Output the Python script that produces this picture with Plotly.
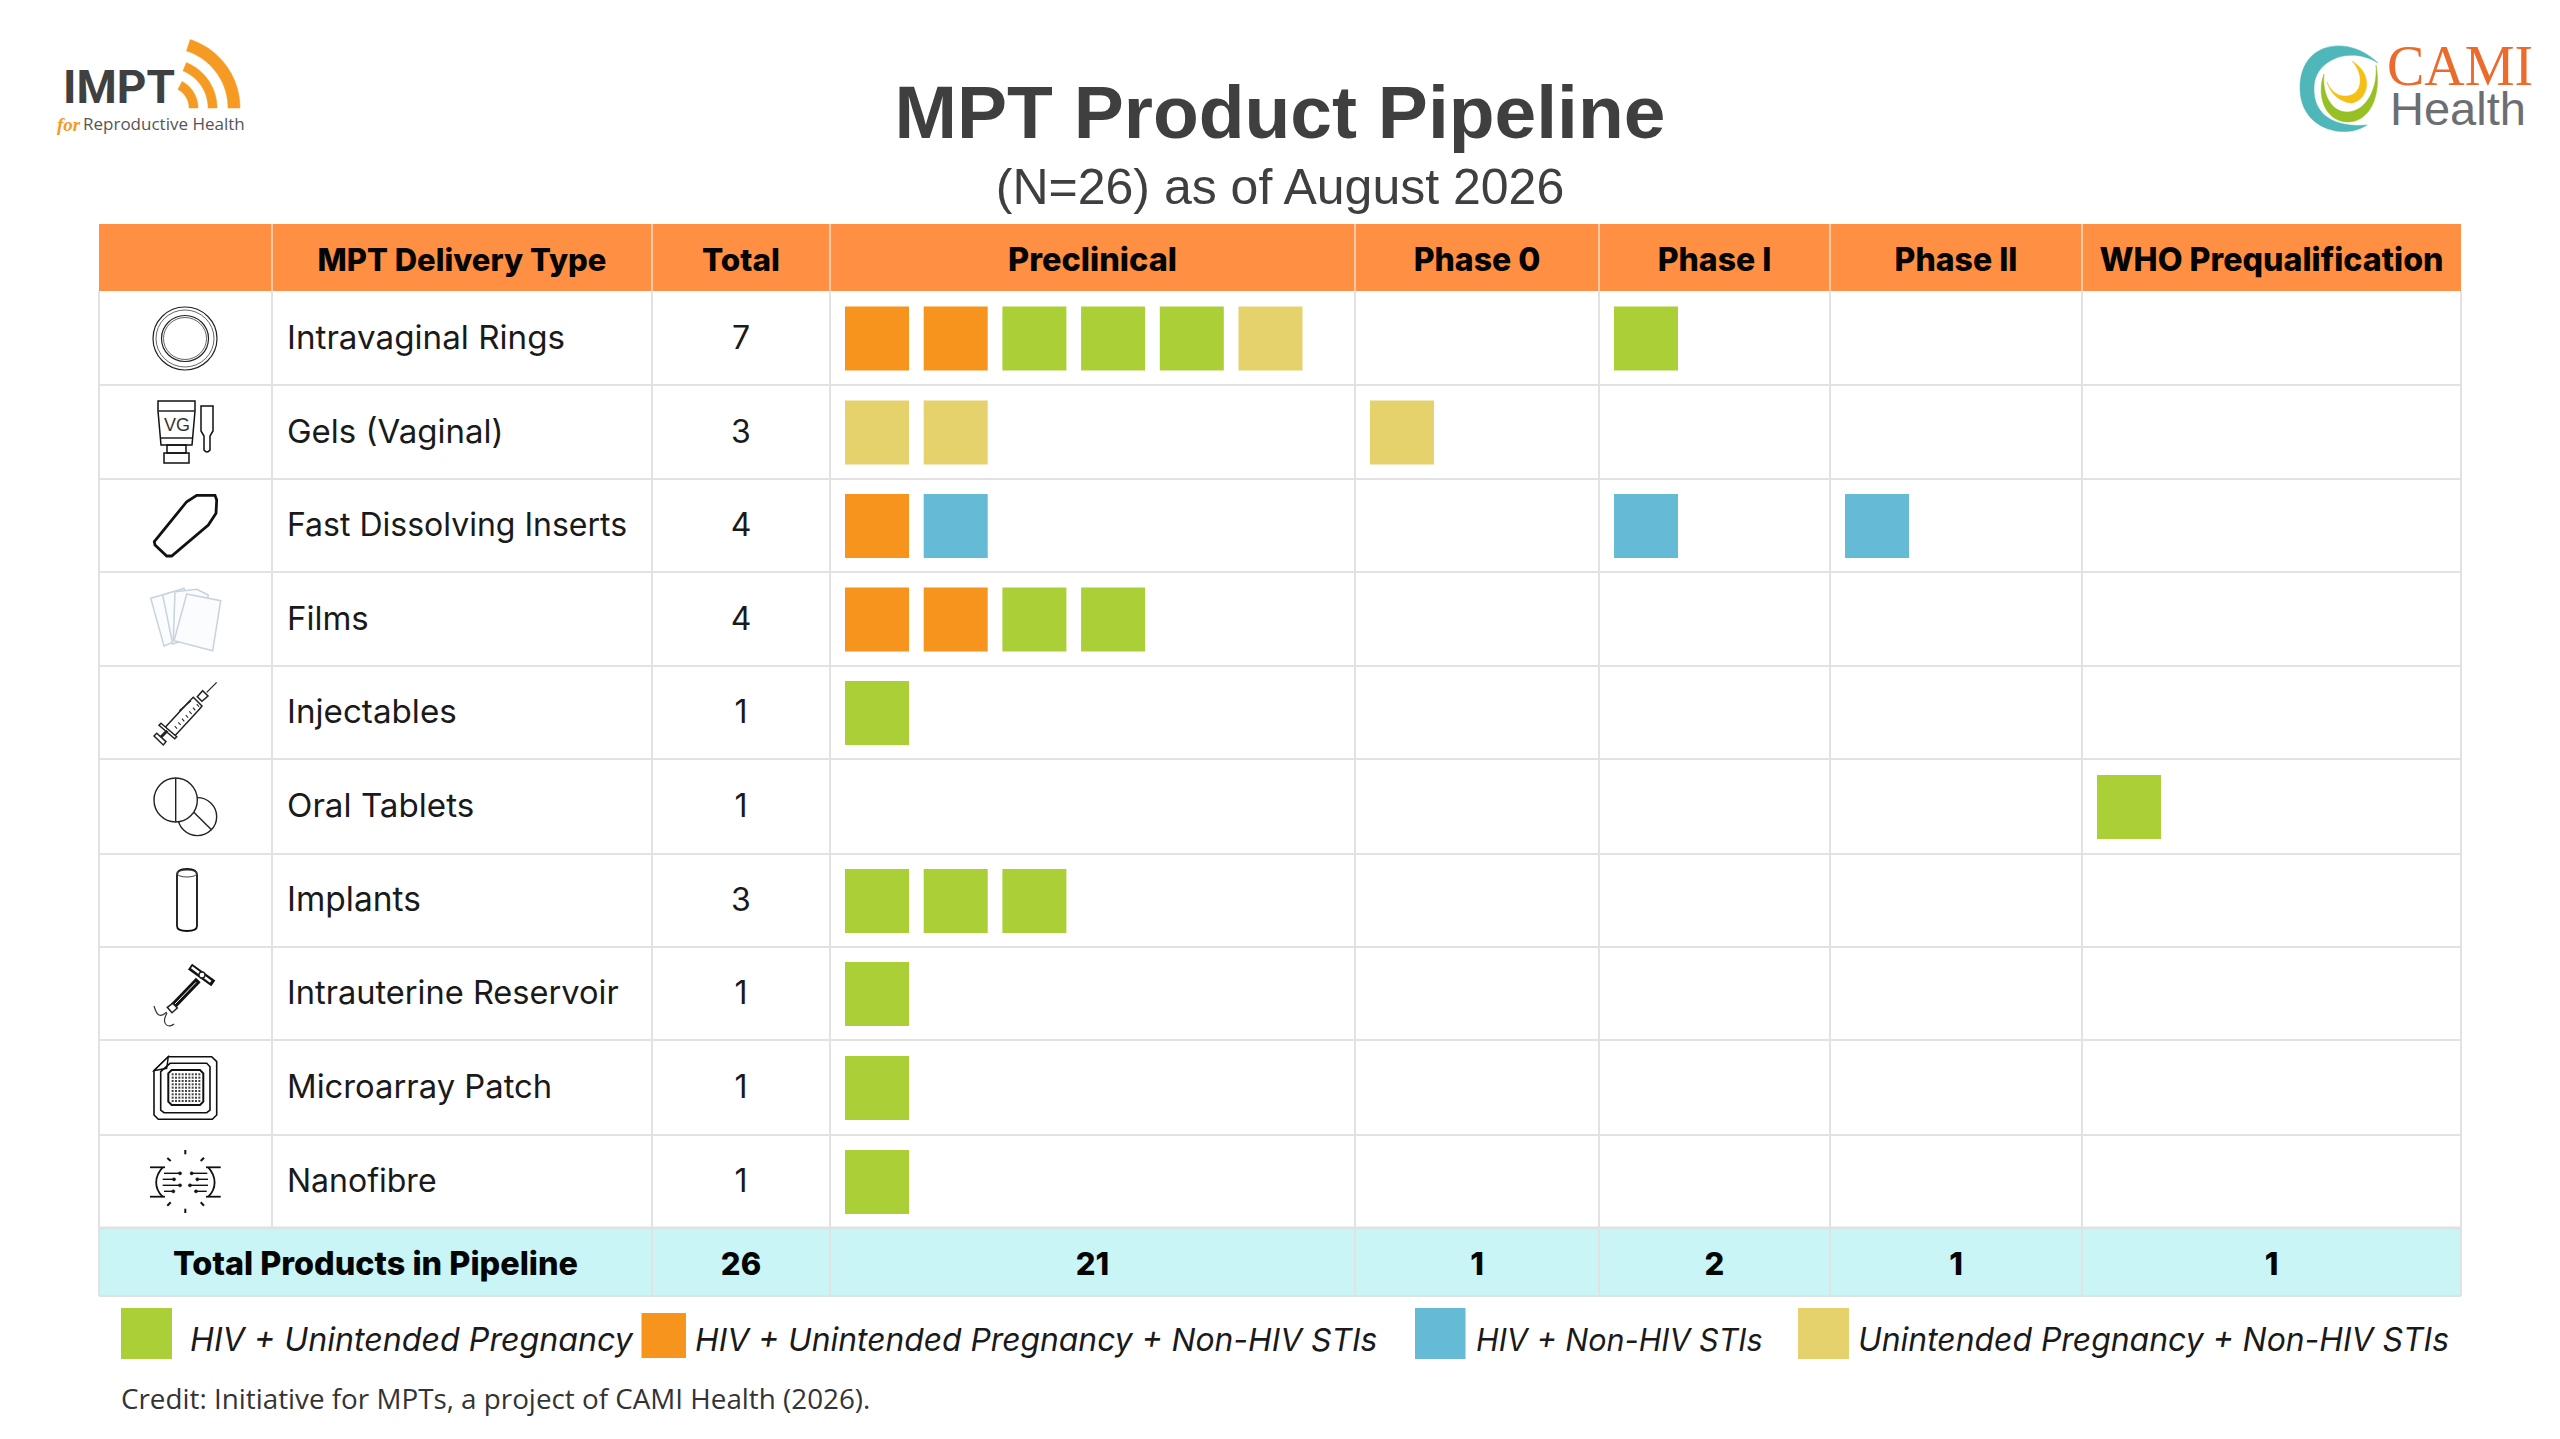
import numpy as np
import plotly.graph_objects as go

# ---------- data ----------
delivery_types = ["Intravaginal Rings", "Gels (Vaginal)", "Fast Dissolving Inserts", "Films", "Injectables",
                  "Oral Tablets", "Implants", "Intrauterine Reservoir", "Microarray Patch", "Nanofibre"]
row_totals = [7, 3, 4, 4, 1, 1, 3, 1, 1, 1]
stages = ["Preclinical", "Phase 0", "Phase I", "Phase II", "WHO Prequalification"]
stage_totals = [21, 1, 2, 1, 1]
grand_total = 26

G, O, B, Y = "HIV + Unintended Pregnancy", "HIV + Unintended Pregnancy + Non-HIV STIs", "HIV + Non-HIV STIs", "Unintended Pregnancy + Non-HIV STIs"
indications = [G, O, B, Y]
preclinical = [[O, O, G, G, G, Y], [Y, Y], [O, B], [O, O, G, G], [G], [], [G, G, G], [G], [G], [G]]
phase_0 = [[], [Y], [], [], [], [], [], [], [], []]
phase_1 = [[G], [], [B], [], [], [], [], [], [], []]
phase_2 = [[], [], [B], [], [], [], [], [], [], []]
who_preq = [[], [], [], [], [], [G], [], [], [], []]
pipeline = [preclinical, phase_0, phase_1, phase_2, who_preq]

# ---------- layout constants (page units) ----------
W, H = 2560, 1439
col_edges = [99, 272, 652, 830, 1355, 1599, 1830, 2082, 2461]
row_edges = [224, 291, 385, 479, 572, 666, 759, 854, 947, 1040, 1135, 1228, 1296]
colors = {G: "#ABCF37", O: "#F7941E", B: "#65BBD6", Y: "#E5D26D"}
GRID = "#E2E2E2"
FONT = "Inter"
row_c = [(row_edges[i] + row_edges[i + 1]) / 2 for i in range(len(row_edges) - 1)]
col_c = [(col_edges[i] + col_edges[i + 1]) / 2 for i in range(len(col_edges) - 1)]
body_c = row_c[1:11]
total_c = row_c[11]
stage_left = col_edges[3:8]
stage_c = col_c[3:]

fig = go.Figure()
shapes = []


def rect(x0, y0, x1, y1, fill, line=None, lw=0):
    shapes.append(dict(type="rect", x0=x0, y0=y0, x1=x1, y1=y1, fillcolor=fill, layer="below",
                       line=dict(color=line or fill, width=lw)))


def seg(x0, y0, x1, y1, color=GRID, lw=2):
    shapes.append(dict(type="line", x0=x0, y0=y0, x1=x1, y1=y1, layer="below", line=dict(color=color, width=lw)))


def path(d, fill="rgba(0,0,0,0)", line="#111", lw=1.5):
    shapes.append(dict(type="path", path=d, fillcolor=fill, layer="below", line=dict(color=line, width=lw)))


def ell(cx, cy, rx, ry, fill="rgba(0,0,0,0)", line="#222", lw=1.5):
    shapes.append(dict(type="circle", x0=cx - rx, x1=cx + rx, y0=cy - ry, y1=cy + ry, fillcolor=fill, layer="below",
                       line=dict(color=line, width=lw)))


def poly(pts, ox, oy, s=3.0, close=True, **kw):
    d = "M" + " L".join(f"{ox + x / s:.1f} {oy + y / s:.1f}" for x, y in pts) + (" Z" if close else "")
    path(d, **kw)


# ---------- table ----------
rect(col_edges[0], row_edges[0], col_edges[-1], row_edges[1], "#FF8F42")
rect(col_edges[0], row_edges[11], col_edges[-1], row_edges[12], "#C9F5F6")
for y in row_edges[2:11]:
    seg(col_edges[0], y, col_edges[-1], y)
seg(col_edges[0], row_edges[11], col_edges[-1], row_edges[11], "#DDE3E3", 3)
seg(col_edges[0], row_edges[12], col_edges[-1], row_edges[12], "#DDE3E3", 2)
for i, x in enumerate(col_edges):
    if 0 < i < len(col_edges) - 1:
        seg(x, row_edges[0], x, row_edges[1], "#FBC9A4", 2)
    if i != 1:
        seg(x, row_edges[1], x, row_edges[12], GRID, 2)
    else:
        seg(x, row_edges[1], x, row_edges[11], GRID, 2)

# ---------- pipeline squares ----------
STEP = 78.7
for ind in indications:
    xs, ys = [], []
    for s, stage in enumerate(pipeline):
        for r, cell in enumerate(stage):
            for k, v in enumerate(cell):
                if v == ind:
                    xs.append(stage_left[s] + 15 + 32 + k * STEP)
                    ys.append(body_c[r] + 0.5)
    fig.add_trace(go.Scatter(x=xs, y=ys, mode="markers", name=ind, showlegend=False,
                             marker=dict(symbol="square", size=64, color=colors[ind], line=dict(width=0))))


def text_trace(xs, ys, texts, size, color="#111", weight=400, pos="middle center", family=FONT, style="normal"):
    fig.add_trace(go.Scatter(x=xs, y=ys, text=texts, mode="text", textposition=pos, showlegend=False,
                             textfont=dict(family=family, size=size, color=color, weight=weight, style=style)))


# header + body + totals text
hdr_x = [col_c[1], col_c[2]] + stage_c
text_trace(hdr_x, [row_c[0] + 5.5] * len(hdr_x), ["MPT Delivery Type", "Total"] + stages,
           [31, 31.5, 32.5, 32, 32, 32, 32.2], "#050505", 800)
text_trace([287] * 10, [y + 2.5 for y in body_c], delivery_types,
           [33.2, 33, 32, 33, 33.2, 33.2, 33.5, 32.6, 32.8, 32], "#1a1a1a", 400, "middle right")
text_trace([col_c[2]] * 10, [y + 2.5 for y in body_c], [str(v) for v in row_totals], 32, "#1a1a1a")
total_x = [(col_edges[0] + col_edges[2]) / 2, col_c[2]] + stage_c
text_trace(total_x, [total_c + 5] * 7, ["Total Products in Pipeline", str(grand_total)] + [str(v) for v in stage_totals],
           [32.4, 31, 31, 31, 31, 31, 31], "#050505", 800)

# title
text_trace([1280], [119], ["MPT Product Pipeline"], 75, "#3F3F3F", 700, family="Liberation Sans")
text_trace([1280], [191], ["(N=26) as of August 2026"], 50, "#3F3F3F", 400, family="Liberation Sans")

# legend
rect(121, 1308, 172, 1359, colors[G])
rect(641.5, 1313, 686, 1358, colors[O])
rect(1415, 1308, 1465.5, 1359, colors[B])
rect(1798, 1308, 1849, 1359, colors[Y])
text_trace([190, 695, 1476, 1858], [1343] * 4, indications, [32.2, 31.8, 30.5, 31.9], "#1a1a1a", 400, "middle right",
           style="italic")
text_trace([121], [1402], ["Credit: Initiative for MPTs, a project of CAMI Health (2026)."], 27.8, "#333", 400,
           "middle right", family="Open Sans")

# ---------- icons ----------
# ring
ell(185, 338.5, 32, 31.5, lw=1.2)
ell(185, 338.5, 29, 28.5, lw=0.7)
ell(185, 338.5, 23.5, 23, lw=1.2)
ell(185, 338.5, 21.5, 21, lw=0.7)
# gel tube + applicator
path("M158 401 L195 401 L195 411 L192 445 L161 445 L158 411 Z", fill="white", lw=1.5)
seg(158, 411, 195, 411, "#222", 1.5)
seg(161, 438, 192, 438, "#222", 1.5)
path("M167 445 L186 445 L186 453 L167 453 Z", lw=1.5)
path("M164 453 L189 453 L189 463 L164 463 Z", lw=1.5)
path("M201 406 L213 406 L213 431 L210 436 L210 450 Q207 454 204 450 L204 436 L201 431 Z", lw=1.5)
text_trace([177], [426], ["VG"], 18, "#333", 400, family="Liberation Sans")
# fast dissolving insert
poly([(193, 185), (290, 65), (320, 46), (375, 46), (380, 60), (378, 100), (355, 135), (245, 228), (230, 228), (195, 195)],
     90, 480, lw=2.8, line="#111")
# films
film = "#C9D3DE"
for pts in ([(182, 355), (250, 335), (290, 470), (222, 498)],
            [(218, 345), (282, 325), (315, 470), (248, 492)],
            [(255, 335), (320, 328), (355, 345), (330, 480), (250, 480)],
            [(290, 342), (392, 362), (368, 512), (252, 482)]):
    poly(pts, 90, 480, fill="#FBFCFD", line=film, lw=1.5)
# syringe
ZX, ZY = 90, 480
poly([(380, 607), (350, 637)], ZX, ZY, close=False, lw=1.2, line="#222")
poly([(338, 632), (354, 648), (336, 664), (322, 650)], ZX, ZY, lw=1.5, line="#222", fill="white")
poly([(310, 652), (336, 678), (326, 690), (254, 768), (226, 742), (298, 664)], ZX, ZY, lw=1.5, line="#222", fill="white")
poly([(213, 730), (260, 770), (254, 776), (207, 736)], ZX, ZY, lw=1.5, line="#222", fill="white")
poly([(232, 752), (212, 772)], ZX, ZY, close=False, lw=3, line="#222")
poly([(192, 768), (200, 760), (228, 785), (220, 795)], ZX, ZY, lw=1.5, line="#222", fill="white")
poly([(268, 692), (303, 662)], ZX, ZY, close=False, lw=1.2, line="#222")
for i in range(7):
    cx, cy = 254 + i * 11, 738 - i * 11
    poly([(cx, cy), (cx + 7, cy + 8)], ZX, ZY, close=False, lw=1.1, line="#222")
# oral tablets
ell(90 + 322 / 3, 480 + 1010 / 3, 58 / 3, 57 / 3, fill="white", lw=1.4)
poly([(310, 995), (365, 1050)], ZX, ZY, close=False, lw=1.4, line="#222")
ell(90 + 257 / 3, 480 + 960 / 3, 65 / 3, 66 / 3, fill="white", lw=1.4)
poly([(257, 895), (257, 1025)], ZX, ZY, close=False, lw=1.4, line="#222")
# implant
path("M177 875 Q177 869 187 869 Q197 869 197 875 L197 926 Q197 931 187 931 Q177 931 177 926 Z", lw=1.8, line="#111")
ell(187, 873.5, 10, 3.5, lw=1, line="#444")
# intrauterine reservoir
ZY2 = 930
poly([(300, 110), (370, 160)], ZX, ZY2, close=False, lw=7, line="#111")
poly([(305, 112), (362, 155)], ZX, ZY2, close=False, lw=2.5, line="#fff")
ell(90 + 336 / 3, 930 + 135 / 3, 3, 3, fill="white", lw=1.4)
poly([(325, 150), (250, 228)], ZX, ZY2, close=False, lw=6.5, line="#111")
poly([(318, 157), (255, 222)], ZX, ZY2, close=False, lw=1, line="#fff")
poly([(232, 232), (248, 220), (262, 234), (246, 248)], ZX, ZY2, lw=1.5, line="#222", fill="white")
path("M166.7 1012 C160 1018 157 1016 154 1006", lw=1.2, line="#333")
path("M167 1013 C160 1026 170 1028 174 1024", lw=1.2, line="#333")
# microarray patch
ZY3 = 930
poly([(235, 380), (365, 380), (380, 395), (380, 555), (367, 568), (205, 568), (192, 555), (192, 422)], ZX, ZY3, lw=1.6,
     line="#111")
poly([(235, 380), (230, 415), (192, 422)], ZX, ZY3, lw=1.4, line="#111", fill="white")
poly([(240, 400), (350, 400), (360, 410), (360, 540), (350, 548), (222, 548), (212, 540), (212, 425)], ZX, ZY3, lw=1.6, line="#111")
poly([(245, 420), (330, 420), (340, 430), (340, 515), (330, 525), (245, 525), (235, 515), (235, 430)], ZX, ZY3, lw=2, line="#111")
dot_xy = [(90 + (248 + i * 10) / 3, 930 + (433 + j * 10) / 3) for i in range(9) for j in range(9)]
fig.add_trace(go.Scatter(x=[p[0] for p in dot_xy], y=[p[1] for p in dot_xy], mode="markers", showlegend=False,
                         marker=dict(symbol="square", size=2, color="#444", line=dict(width=0))))
# nanofibre
for pts in ([(180, 712), (225, 712)], [(180, 800), (225, 800)], [(348, 712), (392, 712)], [(348, 800), (392, 800)]):
    poly(pts, ZX, ZY3, close=False, lw=1.8, line="#111")
path(f"M{90 + 218 / 3:.1f} {930 + 712 / 3:.1f} C{90 + 192 / 3:.1f} {930 + 740 / 3:.1f} {90 + 192 / 3:.1f} {930 + 775 / 3:.1f} {90 + 218 / 3:.1f} {930 + 800 / 3:.1f}", lw=1.8)
path(f"M{90 + 355 / 3:.1f} {930 + 712 / 3:.1f} C{90 + 380 / 3:.1f} {930 + 740 / 3:.1f} {90 + 380 / 3:.1f} {930 + 775 / 3:.1f} {90 + 355 / 3:.1f} {930 + 800 / 3:.1f}", lw=1.8)
for yy, xa, xb in ((730, 222, 270), (748, 218, 252), (766, 218, 270), (784, 222, 250)):
    poly([(xa, yy), (xb, yy)], ZX, ZY3, close=False, lw=1.4)
    ell(90 + xb / 3, 930 + yy / 3, 1.6, 1.6, fill="#111", lw=0.5)
for yy, xa, xb in ((730, 352, 305), (748, 354, 322), (766, 354, 300), (784, 350, 318)):
    poly([(xa, yy), (xb, yy)], ZX, ZY3, close=False, lw=1.4)
    ell(90 + xb / 3, 930 + yy / 3, 1.6, 1.6, fill="#111", lw=0.5)
for pts in ([(286, 660), (286, 673)], [(232, 684), (242, 693)], [(342, 683), (332, 693)], [(286, 836), (286, 849)],
            [(232, 827), (242, 817)], [(342, 827), (332, 817)]):
    poly(pts, ZX, ZY3, close=False, lw=2, line="#111")

# ---------- logos ----------
text_trace([63], [91], ["IMPT"], 46, "#404040", 700, "middle right", family="Roboto")
for r, tip in ((25.5, 62), (44.5, 68), (66, 72)):
    th = np.radians(np.linspace(0, tip, 30))
    hw = 4.5 if r < 60 else 6
    pts = np.c_[168 + (r + hw) * np.cos(th), 108 - (r + hw) * np.sin(th)]
    pts2 = np.c_[168 + (r - hw) * np.cos(th[::-1]), 108 - (r - hw) * np.sin(th[::-1])]
    a = np.vstack([pts, pts2])
    path("M" + " L".join(f"{x:.1f} {y:.1f}" for x, y in a) + " Z", fill="#F59A23", line="#F59A23", lw=0.5)
text_trace([57], [126], ["for"], 19, "#F59A23", 700, "middle right", family="Liberation Serif", style="italic")
text_trace([83], [126], ["Reproductive Health"], 17, "#555", 400, "middle right", family="Open Sans")

path("M2378 63 C2350 35 2300 40 2300 88 C2300 130 2345 140 2367 125 C2335 128 2313 115 2314 88 C2314 60 2350 45 2378 63 Z",
     fill="#4FB7BA", line="#4FB7BA", lw=0.5)
path("M2324 74 C2316 95 2325 122 2348 122 C2370 122 2382 95 2376 65 C2378 90 2365 112 2347 112 C2332 112 2322 95 2324 74 Z",
     fill="#97C024", line="#97C024", lw=0.5)
path("M2327 82 C2332 98 2345 103 2352 103 C2368 100 2375 75 2352 61 C2365 75 2362 95 2347 96 C2337 97 2330 90 2327 82 Z",
     fill="#F6BF15", line="#F6BF15", lw=0.5)
text_trace([2387], [71], ["CAMI"], 56, "#EC6A2C", 400, "middle right", family="Liberation Serif")
text_trace([2390], [113], ["Health"], 47, "#6D6E71", 400, "middle right", family="Liberation Sans")

fig.update_layout(width=W, height=H, margin=dict(l=0, r=0, t=0, b=0), autosize=False, showlegend=False,
                  paper_bgcolor="white", plot_bgcolor="white", shapes=shapes, hovermode=False,
                  xaxis=dict(range=[0, W], visible=False, fixedrange=True),
                  yaxis=dict(range=[H, 0], visible=False, fixedrange=True))
fig.write_html("out.html", config=dict(displayModeBar=False),
               post_script="document.body.style.margin='0';document.body.style.overflow='hidden';")
